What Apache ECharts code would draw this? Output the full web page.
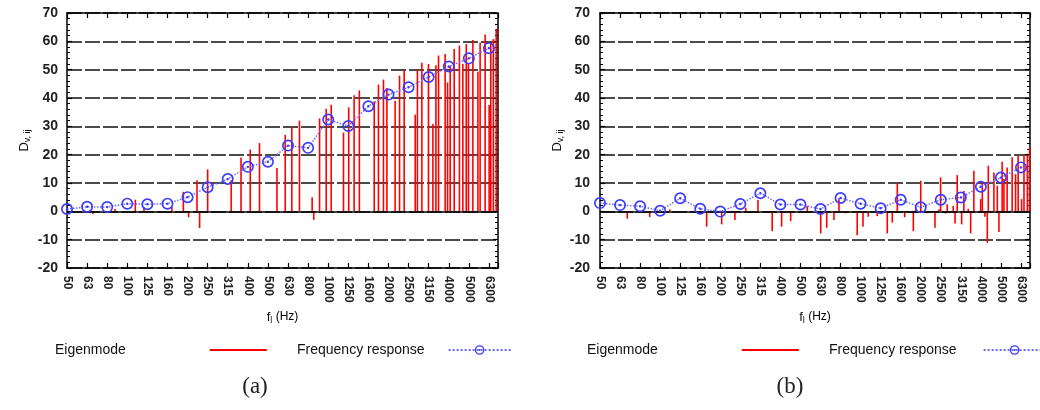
<!DOCTYPE html>
<html>
<head>
<meta charset="utf-8">
<script src="https://cdn.jsdelivr.net/npm/echarts@6/dist/echarts.min.js"></script>
<style>
  html, body { margin: 0; padding: 0; background: #fff; }
  #chart { width: 1040px; height: 410px; }
</style>
</head>
<body>
<div id="chart"></div>
<script>
// third-octave band labels (x position = band index)
const bands = ['50', '63', '80', '100', '125', '160', '200', '250', '315', '400', '500',
  '630', '800', '1000', '1250', '1600', '2000', '2500', '3150', '4000', '5000', '6300']

// frequency response per band
const respA = [0.8, 1.6, 1.5, 2.7, 2.5, 2.7, 5.0, 8.5, 11.4, 15.7, 17.5, 23.2, 22.4,
  32.4, 30.1, 37.1, 41.2, 43.8, 47.4, 51.1, 54.0, 57.6]
const respB = [2.9, 2.2, 1.8, 0.2, 4.6, 0.9, -0.1, 2.6, 6.4, 2.4, 2.4, 0.8, 4.7,
  2.7, 1.1, 4.1, 1.4, 4.1, 4.9, 8.7, 11.9, 15.5]

// eigenmodes: position (in band units) and value
const modePosA = [1.29, 2.39, 3.40, 3.83, 5.22, 5.79, 6.05, 6.47, 6.60, 7.00, 8.17, 8.66,
  9.12, 9.58, 10.45, 10.86, 11.19, 11.57, 12.20, 12.28, 12.57, 12.90, 13.15, 13.76,
  14.02, 14.29, 14.55, 15.29, 15.50, 15.75, 15.92, 16.33, 16.55, 16.78, 17.33, 17.44,
  17.66, 17.99, 18.21, 18.36, 18.49, 18.82, 18.94, 19.07, 19.27, 19.53, 19.70, 19.87,
  19.98, 20.20, 20.45, 20.56, 20.81, 21.01, 21.09, 21.22, 21.36]
const modeValA = [-1, 0.8, 4.1, 1.5, 1.6, 6.9, -2.1, 11, -5.9, 14.8, 11, 19,
  21.8, 24.1, 15.3, 27, 29.8, 32, 5, -3, 32.8, 36.2, 37.6, 27.8,
  36.7, 41, 42.7, 38.8, 44.7, 46.5, 43.5, 39, 47.9, 49.9, 34.1, 49.9,
  52.4, 52, 30.8, 51.6, 55, 55.5, 45.5, 51.4, 57.3, 58.5, 52, 59,
  52, 60.5, 49.3, 59.6, 62.4, 37.5, 59.6, 60.8, 64.4]

const modePosB = [1.36, 2.48, 3.48, 5.32, 6.07, 6.73, 7.27, 7.88, 8.59, 9.06, 9.51, 10.34,
  11.01, 11.31, 11.67, 11.92, 12.25, 12.83, 13.12, 13.38, 13.83, 14.33, 14.58, 14.83,
  15.20, 15.63, 15.75, 16.00, 16.32, 16.71, 16.91, 16.99, 17.24, 17.32, 17.62, 17.71,
  17.82, 18.04, 18.15, 18.37, 18.49, 18.65, 18.99, 19.07, 19.20, 19.32, 19.37, 19.65,
  19.82, 19.90, 20.06, 20.15, 20.31, 20.56, 20.73, 20.86, 21.03, 21.15, 21.32, 21.43]
const modeValB = [-2.6, -2, 0.7, -5.4, -4.6, -3.1, 1.3, 4, -7, -5.4, -3.5, 1.9,
  -7.8, -5.8, -3.1, 4.5, -0.7, -8.4, -5.4, -1.9, -1.7, -7.8, -4, 9.9,
  -2.1, -7, 1.5, 10.8, -0.7, -5.8, 0.7, 12, -0.8, 2.5, 1.9, -4.3,
  12.8, -4.6, 7.2, 0.9, -7.8, 14.3, 4.3, 10.4, -1.9, -11.1, 16.1, 13.7,
  9, -7.3, 17.5, 11.4, 15.5, 19.1, 13.1, 19.6, 4.3, 19.9, 19.6, 22.6]

const font = 'Liberation Sans, Arial, sans-serif'
const ringDot = 'path://M0 -5A5 5 0 1 1 0 5A5 5 0 1 1 0 -5ZM0 -3.6A3.6 3.6 0 1 0 0 3.6A3.6 3.6 0 1 0 0 -3.6ZM0 -1A1 1 0 1 1 0 1A1 1 0 1 1 0 -1Z'

const grids = [
  {left: 67, right: 542, top: 13, bottom: 142},
  {left: 600, right: 10, top: 13, bottom: 142}
]

function xAxes (gi) {
  const base = {
    type: 'value', gridIndex: gi, min: 0, max: 21.45, interval: 1,
    axisLine: {onZero: false, lineStyle: {color: '#000', width: 1.5}},
    axisTick: {inside: true, length: 5, lineStyle: {color: '#000', width: 1.2}},
    splitLine: {show: false}
  }
  return [
    Object.assign({}, base, {
      position: 'bottom',
      name: '{f|f}{s|l} (Hz)',
      nameLocation: 'middle',
      nameGap: 36,
      nameTextStyle: {
        rich: {
          f: {fontFamily: font, fontSize: 13, color: '#111'},
          s: {fontFamily: font, fontSize: 9, color: '#111', padding: [7, 0, 0, 0]}
        }
      },
      axisLabel: {
        rotate: -90, margin: 8, fontFamily: font, fontSize: 12, fontWeight: 'bold', color: '#222',
        formatter: v => (Number.isInteger(v) && bands[v]) ? bands[v] : ''
      }
    }),
    Object.assign({}, base, {position: 'top', axisLabel: {show: false}})
  ]
}

function yAxes (gi) {
  const base = {
    type: 'value', gridIndex: gi, min: -20, max: 70, interval: 10,
    axisLine: {show: true, onZero: false, lineStyle: {color: '#000', width: 1.5}},
    axisTick: {inside: true, length: 5, lineStyle: {color: '#000', width: 1.2}},
    minorTick: {show: true, splitNumber: 5, length: 3, lineStyle: {color: '#000', width: 1}}
  }
  return [
    Object.assign({}, base, {
      position: 'left',
      name: '{d|D}{s|v, ij}',
      nameLocation: 'middle',
      nameGap: 35,
      nameRotate: 90,
      nameTextStyle: {
        rich: {
          d: {fontFamily: font, fontSize: 13, color: '#111'},
          s: {fontFamily: font, fontSize: 9, color: '#111', padding: [7, 0, 0, 0]}
        }
      },
      axisLabel: {margin: gi === 0 ? 9 : 10, fontFamily: font, fontSize: 14, fontWeight: 'bold', color: '#222'},
      splitLine: {show: true, lineStyle: {color: '#111', width: 1.5, type: [15, 3]}}
    }),
    Object.assign({}, base, {position: 'right', axisLabel: {show: false}, splitLine: {show: false}})
  ]
}

function series (gi, pos, vals, resp) {
  return [
    {
      name: 'Eigenmode', type: 'bar', xAxisIndex: gi * 2, yAxisIndex: gi * 2,
      barWidth: 1.6, itemStyle: {color: '#ff0000'},
      data: pos.map((p, i) => [p, vals[i]]),
      markLine: {
        silent: true, symbol: 'none', label: {show: false},
        lineStyle: {color: '#000', width: 1.5, type: 'solid'},
        data: [{yAxis: 0}]
      }
    },
    {
      name: 'Frequency response', type: 'line', xAxisIndex: gi * 2, yAxisIndex: gi * 2,
      z: 5, symbol: ringDot, symbolSize: 12, showAllSymbol: true,
      itemStyle: {color: '#3b3bff'},
      lineStyle: {color: '#6a6aff', width: 1.5, type: 'dotted'},
      data: resp.map((v, i) => [i, v])
    }
  ]
}

// legend text is padded on the right so the sample sits far from its label
function legends (x0, eigIconX, frX, frIconX) {
  const ts = padRight => ({
    fontFamily: font, fontSize: 14, color: '#111', padding: [0, padRight, 0, 0]
  })
  return [
    {
      left: x0, top: 343, padding: 0, align: 'right', itemWidth: 57, itemHeight: 2,
      data: [{name: 'Eigenmode', icon: 'rect'}],
      textStyle: ts(eigIconX - x0 - 76),
      selectedMode: false
    },
    {
      left: frX, top: 343, padding: 0, align: 'right', itemWidth: 62, itemHeight: 12,
      data: ['Frequency response'],
      textStyle: ts(frIconX - frX - 132),
      selectedMode: false
    }
  ]
}

const chart = echarts.init(document.getElementById('chart'))
chart.setOption({
  animation: false,
  backgroundColor: '#fff',
  title: [
    {text: '(a)', left: 250, top: 370, textAlign: 'center',
      textStyle: {fontFamily: 'Liberation Serif, DejaVu Serif, serif', fontSize: 23, fontWeight: 'normal', color: '#222'}},
    {text: '(b)', left: 785, top: 370, textAlign: 'center',
      textStyle: {fontFamily: 'Liberation Serif, DejaVu Serif, serif', fontSize: 23, fontWeight: 'normal', color: '#222'}}
  ],
  legend: legends(55, 210, 297, 448).concat(legends(587, 742, 829, 983)),
  grid: grids,
  xAxis: xAxes(0).concat(xAxes(1)),
  yAxis: yAxes(0).concat(yAxes(1)),
  series: series(0, modePosA, modeValA, respA).concat(series(1, modePosB, modeValB, respB))
})
</script>
</body>
</html>
